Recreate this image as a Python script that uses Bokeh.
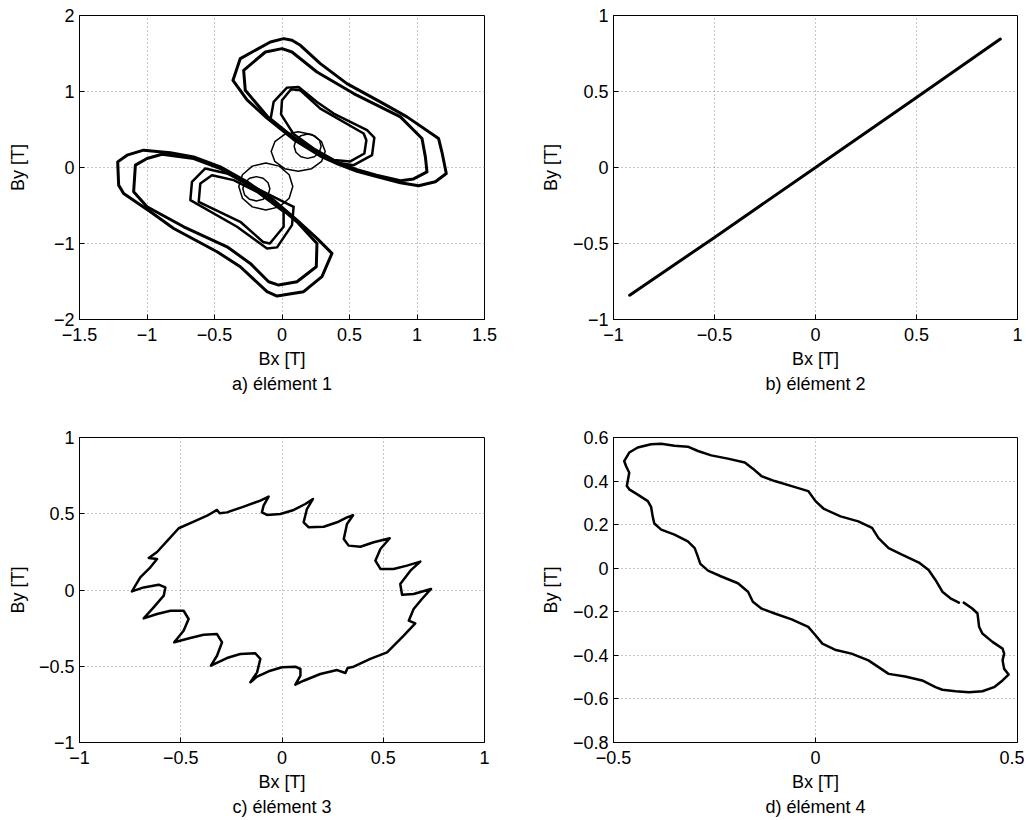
import math
from bokeh.plotting import figure
from bokeh.layouts import column, row
from bokeh.models import Range1d, FixedTicker, CustomJSTickFormatter, Title
from bokeh.embed import file_html
from bokeh.resources import INLINE

FONT = "Liberation Sans"
NAN = float("nan")

# ---------------- data ----------------
# panel a) élément 1
a_xticks = [-1.5, -1, -0.5, 0, 0.5, 1, 1.5]
a_yticks = [-2, -1, 0, 1, 2]
# outer loops, upper right
a_loop1_x = [-0.363, -0.309, -0.086, 0.012, 0.074, 0.136, 0.284, 0.481, 0.728, 0.926, 1.160, 1.185, 1.217, 1.136, 1.012, 0.877, 0.700, 0.556, 0.420, 0.284, 0.086, -0.111, -0.259, -0.363]
a_loop1_y = [1.148, 1.433, 1.652, 1.696, 1.674, 1.608, 1.367, 1.104, 0.863, 0.666, 0.381, 0.200, -0.079, -0.188, -0.240, -0.200, -0.120, -0.050, 0.040, 0.150, 0.370, 0.650, 0.890, 1.148]
a_loop2_x = [-0.272, -0.284, -0.123, 0.0, 0.074, 0.259, 0.531, 0.877, 1.037, 1.062, 1.074, 0.975, 0.877, 0.700, 0.556, 0.420, 0.284, 0.086, -0.111, -0.272]
a_loop2_y = [1.016, 1.279, 1.520, 1.564, 1.520, 1.257, 0.973, 0.666, 0.381, 0.140, -0.057, -0.150, -0.175, -0.100, -0.030, 0.060, 0.170, 0.392, 0.677, 1.016]
# inner loops, upper right
a_loop3_x = [-0.086, -0.062, 0.037, 0.123, 0.259, 0.383, 0.630, 0.684, 0.667, 0.531, 0.420, 0.284, 0.086, -0.086]
a_loop3_y = [0.622, 0.863, 1.051, 1.060, 0.863, 0.710, 0.491, 0.394, 0.162, 0.030, 0.060, 0.180, 0.400, 0.622]
a_loop4_x = [-0.007, 0.0, 0.067, 0.136, 0.284, 0.605, 0.625, 0.610, 0.506, 0.383, 0.235, 0.086, -0.007]
a_loop4_y = [0.700, 0.885, 1.030, 1.016, 0.775, 0.447, 0.359, 0.184, 0.080, 0.100, 0.250, 0.440, 0.700]
# outer loops, lower left
a_loop5_x = [0.370, 0.296, 0.160, -0.037, -0.111, -0.309, -0.481, -0.802, -0.975, -1.173, -1.210, -1.217, -1.148, -1.025, -0.827, -0.654, -0.457, -0.259, -0.062, 0.111, 0.259, 0.370]
a_loop5_y = [-1.130, -1.437, -1.634, -1.691, -1.634, -1.306, -1.108, -0.802, -0.583, -0.342, -0.232, 0.074, 0.162, 0.228, 0.193, 0.140, 0.009, -0.188, -0.429, -0.692, -0.933, -1.130]
a_loop6_x = [0.259, 0.254, 0.111, -0.025, -0.099, -0.235, -0.407, -0.728, -1.0, -1.099, -1.086, -1.0, -0.889, -0.654, -0.457, -0.259, -0.062, 0.111, 0.259]
a_loop6_y = [-0.999, -1.306, -1.503, -1.547, -1.503, -1.262, -1.043, -0.780, -0.517, -0.320, 0.031, 0.118, 0.175, 0.118, -0.013, -0.219, -0.451, -0.714, -0.999]
# inner loops, lower left
a_loop7_x = [0.086, 0.074, -0.037, -0.111, -0.198, -0.333, -0.679, -0.667, -0.568, -0.407, -0.210, -0.062, 0.086]
a_loop7_y = [-0.517, -0.758, -1.051, -1.065, -0.955, -0.780, -0.429, -0.190, -0.013, -0.079, -0.254, -0.386, -0.517]
a_loop8_x = [0.012, 0.012, -0.090, -0.140, -0.309, -0.617, -0.605, -0.519, -0.358, -0.185, 0.012]
a_loop8_y = [-0.583, -0.780, -1.000, -0.980, -0.714, -0.451, -0.210, -0.101, -0.166, -0.320, -0.583]
# small loops near the centre
a_circ1_x = [0.32, 0.293, 0.22, 0.12, 0.02, -0.053, -0.08, -0.053, 0.02, 0.12, 0.22, 0.293, 0.32]
a_circ1_y = [0.21, 0.34, 0.435, 0.47, 0.435, 0.34, 0.21, 0.08, -0.015, -0.05, -0.015, 0.08, 0.21]
a_circ2_x = [0.29, 0.277, 0.24, 0.19, 0.14, 0.103, 0.09, 0.103, 0.14, 0.19, 0.24, 0.277, 0.29]
a_circ2_y = [0.28, 0.36, 0.419, 0.44, 0.419, 0.36, 0.28, 0.20, 0.141, 0.12, 0.141, 0.20, 0.28]
a_circ3_x = [0.08, 0.053, -0.02, -0.12, -0.22, -0.293, -0.32, -0.293, -0.22, -0.12, -0.02, 0.053, 0.08]
a_circ3_y = [-0.25, -0.095, 0.018, 0.06, 0.018, -0.095, -0.25, -0.405, -0.518, -0.56, -0.518, -0.405, -0.25]
a_circ4_x = [-0.09, -0.103, -0.14, -0.19, -0.24, -0.277, -0.29, -0.277, -0.24, -0.19, -0.14, -0.103, -0.09]
a_circ4_y = [-0.28, -0.20, -0.141, -0.12, -0.141, -0.20, -0.28, -0.36, -0.419, -0.44, -0.419, -0.36, -0.28]

# panel b) élément 2
b_xticks = [-1, -0.5, 0, 0.5, 1]
b_yticks = [-1, -0.5, 0, 0.5, 1]
b_x = [-0.92, -0.5, 0.0, 0.5, 0.915]
b_y = [-0.84, -0.46, 0.0, 0.46, 0.845]

# panel c) élément 3
c_xticks = [-1, -0.5, 0, 0.5, 1]
c_yticks = [-1, -0.5, 0, 0.5, 1]
c_x = [-0.741, -0.700, -0.650, -0.617, -0.658, -0.617, -0.560, -0.510, -0.436, -0.370, -0.321, -0.308, -0.272,
       -0.189, -0.107, -0.066, -0.091, -0.099, -0.074, -0.008, 0.058, 0.115, 0.153, 0.123, 0.107, 0.132,
       0.206, 0.272, 0.321, 0.351, 0.321, 0.305, 0.329, 0.387, 0.453, 0.532, 0.486, 0.461, 0.486, 0.551,
       0.617, 0.683, 0.634, 0.584, 0.593, 0.650, 0.736, 0.691, 0.650, 0.626, 0.658, 0.601, 0.519, 0.436,
       0.354, 0.324, 0.313, 0.272, 0.189, 0.107, 0.066, 0.091, 0.091, 0.066, 0.0, -0.066, -0.123, -0.156,
       -0.123, -0.107, -0.132, -0.206, -0.272, -0.351, -0.321, -0.296, -0.321, -0.387, -0.453, -0.532,
       -0.486, -0.461, -0.486, -0.551, -0.617, -0.683, -0.634, -0.584, -0.576, -0.609, -0.683, -0.741]
c_y = [-0.009, 0.083, 0.149, 0.203, 0.210, 0.249, 0.332, 0.405, 0.448, 0.487, 0.525, 0.503, 0.509,
       0.547, 0.586, 0.612, 0.553, 0.509, 0.492, 0.498, 0.525, 0.564, 0.597, 0.531, 0.444, 0.411,
       0.415, 0.444, 0.476, 0.490, 0.433, 0.334, 0.291, 0.284, 0.313, 0.339, 0.269, 0.192, 0.138, 0.138,
       0.160, 0.186, 0.127, 0.039, -0.031, -0.026, 0.007, -0.059, -0.125, -0.201, -0.219, -0.299, -0.409, -0.452,
       -0.503, -0.511, -0.544, -0.525, -0.551, -0.595, -0.621, -0.562, -0.518, -0.503, -0.507, -0.533, -0.568, -0.605,
       -0.540, -0.452, -0.415, -0.420, -0.446, -0.496, -0.431, -0.343, -0.289, -0.293, -0.315, -0.343,
       -0.267, -0.190, -0.136, -0.136, -0.157, -0.186, -0.114, -0.037, 0.017, 0.035, 0.017, -0.009]

# panel d) élément 4
d_xticks = [-0.5, 0, 0.5]
d_yticks = [-0.8, -0.6, -0.4, -0.2, 0, 0.2, 0.4, 0.6]
d_x = [-0.4735, -0.461, -0.440, -0.407, -0.382, -0.349, -0.316, -0.291, -0.258, -0.217, -0.175, -0.155, -0.134,
       -0.101, -0.059, -0.018, 0.0, 0.021, 0.062, 0.106, 0.140, 0.156, 0.181, 0.214, 0.256, 0.280, 0.297,
       0.314, 0.334, 0.355, NAN, 0.367, 0.388, 0.401, 0.405, 0.413, 0.438, 0.463, 0.467, 0.463, 0.467, 0.478,
       0.463, 0.442, 0.413, 0.380, 0.347, 0.314, 0.297, 0.264, 0.222, 0.181, 0.156, 0.131, 0.089, 0.048,
       0.017, 0.0, -0.018, -0.059, -0.101, -0.134, -0.155, -0.167, -0.192, -0.233, -0.266, -0.285, -0.293,
       -0.299, -0.316, -0.349, -0.382, -0.399, -0.403, -0.407, -0.415, -0.440, -0.461, -0.467, -0.464,
       -0.461, -0.469, -0.4735]
d_y = [0.492, 0.531, 0.554, 0.569, 0.571, 0.562, 0.558, 0.538, 0.518, 0.503, 0.485, 0.457, 0.423,
       0.400, 0.377, 0.354, 0.308, 0.272, 0.238, 0.215, 0.185, 0.138, 0.092, 0.062, 0.026, -0.008, -0.054,
       -0.108, -0.138, -0.158, NAN, -0.158, -0.185, -0.208, -0.269, -0.300, -0.338, -0.369, -0.392, -0.423, -0.462, -0.488,
       -0.515, -0.546, -0.565, -0.569, -0.565, -0.558, -0.546, -0.515, -0.497, -0.485, -0.454, -0.423, -0.392, -0.374,
       -0.346, -0.308, -0.269, -0.235, -0.208, -0.185, -0.154, -0.108, -0.069, -0.038, -0.011, 0.020, 0.062,
       0.092, 0.123, 0.154, 0.177, 0.205, 0.238, 0.282, 0.308, 0.338, 0.362, 0.377, 0.408,
       0.438, 0.469, 0.492]

# ---------------- figures ----------------
TICK_FMT = CustomJSTickFormatter(code="return String(tick).replace('-', '\u2212');")


def make_fig(xr, yr, xticks, yticks, width, height, bl, br, bt, bb, ylab_standoff, caption):
    p = figure(width=width, height=height, x_range=Range1d(*xr), y_range=Range1d(*yr),
               output_backend="svg", toolbar_location=None, tools="",
               min_border_left=bl, min_border_right=br, min_border_top=bt, min_border_bottom=bb)
    p.outline_line_color = "black"
    p.outline_line_width = 1
    p.outline_line_alpha = 1.0
    p.background_fill_color = "white"
    p.border_fill_color = "white"
    for ax, ticks in ((p.xaxis[0], xticks), (p.yaxis[0], yticks)):
        ax.ticker = FixedTicker(ticks=ticks)
        ax.formatter = TICK_FMT
        ax.major_tick_in = 5
        ax.major_tick_out = 0
        ax.minor_tick_in = 0
        ax.minor_tick_out = 0
        ax.axis_line_color = "black"
        ax.major_tick_line_color = "black"
        ax.major_label_text_font = FONT
        ax.major_label_text_font_size = "18px"
        ax.major_label_text_color = "black"
        ax.axis_label_text_font = FONT
        ax.axis_label_text_font_size = "18px"
        ax.axis_label_text_font_style = "normal"
        ax.axis_label_text_color = "black"
    p.xaxis.axis_label = "Bx [T]"
    p.yaxis.axis_label = "By [T]"
    p.xaxis.major_label_standoff = 8
    p.xaxis.axis_label_standoff = 5
    p.yaxis.major_label_standoff = 5
    p.yaxis.axis_label_standoff = ylab_standoff
    p.grid.grid_line_dash = "1 3"
    p.grid.grid_line_color = "#8c8c8c"
    p.grid.grid_line_width = 1
    t = Title(text=caption, align="center", text_font=FONT, text_font_size="18px",
              text_font_style="normal", text_color="black", standoff=0)
    p.add_layout(t, "below")
    return p


LW = dict(line_color="black", line_join="round", line_cap="round")

pa = make_fig((-1.5, 1.5), (-2, 2), a_xticks, a_yticks, 516, 418, 79, 32, 15, 99, 23, "a) élément 1")
for xs, ys in ((a_loop1_x, a_loop1_y), (a_loop2_x, a_loop2_y), (a_loop5_x, a_loop5_y), (a_loop6_x, a_loop6_y)):
    pa.line(xs, ys, line_width=3, **LW)
for xs, ys in ((a_loop3_x, a_loop3_y), (a_loop4_x, a_loop4_y), (a_loop7_x, a_loop7_y), (a_loop8_x, a_loop8_y)):
    pa.line(xs, ys, line_width=2.5, **LW)
for xs, ys in ((a_circ1_x, a_circ1_y), (a_circ2_x, a_circ2_y), (a_circ3_x, a_circ3_y), (a_circ4_x, a_circ4_y)):
    pa.line(xs, ys, line_width=1.5, **LW)

pb = make_fig((-1, 1), (-1, 1), b_xticks, b_yticks, 508, 418, 97, 7, 15, 99, 9, "b) élément 2")
pb.line(b_x, b_y, line_width=3, **LW)

pc = make_fig((-1, 1), (-1, 1), c_xticks, c_yticks, 516, 401, 79, 32, 19, 77, 8, "c) élément 3")
pc.line(c_x, c_y, line_width=2.5, **LW)

pd = make_fig((-0.5, 0.5), (-0.8, 0.6), d_xticks, d_yticks, 508, 401, 97, 7, 19, 77, 9, "d) élément 4")
pd.line(d_x, d_y, line_width=2.5, **LW)

layout = column(row(pa, pb), row(pc, pd))
open("out.html", "w").write(file_html(layout, INLINE))
